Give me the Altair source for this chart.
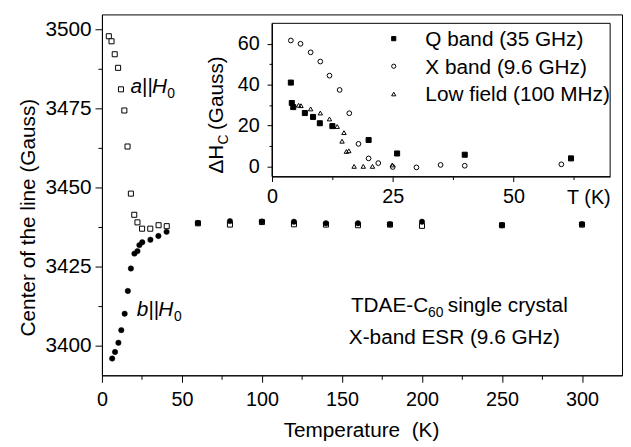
import altair as alt
import pandas as pd

FONT = "Liberation Sans"

# ---------------- main panel: centre of the line vs temperature ----------------
a_T = [4.3, 6.0, 8.0, 10.1, 11.9, 14.0, 16.0, 18.1, 20.2, 22.2, 25.1, 30.2, 35.4, 40.5,
       60, 80, 100, 120, 140, 160, 180, 200, 250, 300]
a_H = [3497.8, 3496.2, 3492.1, 3487.8, 3481.0, 3474.3, 3462.9, 3448.0, 3441.3, 3438.9,
       3436.9, 3436.9, 3438.0, 3437.7, 3438.6, 3438.2, 3439.0, 3438.3, 3438.2, 3438.0,
       3438.2, 3437.8, 3438.0, 3438.2]
b_T = [6.4, 8.2, 10.3, 12.1, 14.2, 16.2, 18.1, 20.3, 22.2, 23.4, 25.2, 30.3, 35.3, 40.4,
       60, 80, 100, 120, 140, 160, 180, 200, 250, 300]
b_H = [3395.8, 3397.9, 3400.8, 3404.8, 3410.0, 3417.2, 3424.3, 3429.0, 3429.8, 3431.7,
       3432.6, 3433.4, 3434.6, 3435.9, 3438.7, 3439.3, 3439.2, 3439.1, 3438.6, 3438.6,
       3438.3, 3439.1, 3438.0, 3438.3]

main_x_domain = [0, 325]
main_y_domain = [3390.5, 3504.7]
main_x_ticks = [0, 25, 50, 75, 100, 125, 150, 175, 200, 225, 250, 275, 300]
main_y_ticks = [3400, 3412.5, 3425, 3437.5, 3450, 3462.5, 3475, 3487.5, 3500]

# ---------------- inset: ΔH_C vs temperature ----------------
bands = ["Q band (35 GHz)", "X band (9.6 GHz)", "Low field (100 MHz)"]
q_T = [3.9, 4.1, 4.4, 6.8, 8.5, 9.9, 12.5, 20.0, 25.9, 39.9, 61.9]
q_dH = [41.0, 31.0, 29.0, 26.1, 24.2, 21.1, 19.7, 12.9, 6.3, 5.7, 3.9]
x_T = [3.9, 5.9, 8.0, 10.0, 11.9, 14.0, 16.0, 17.9, 20.0, 22.0, 25.0, 29.9, 34.9, 39.9, 59.9]
x_dH = [61.6, 60.0, 55.8, 51.3, 44.4, 37.4, 26.0, 11.0, 3.9, 1.6, -0.3, -0.5, 0.7, 0.3, 1.0]
l_T = [5.5, 6.0, 8.0, 10.0, 11.9, 13.5, 14.9, 14.5, 15.4, 15.9, 17.0, 18.9, 20.8, 24.9]
l_dH = [29.9, 29.7, 28.1, 26.1, 23.2, 19.5, 16.5, 12.3, 7.3, 7.6, 0.0, 0.0, 0.0, 0.7]

inset_x_domain = [0, 70]
inset_y_domain = [-5, 70]
inset_x_ticks = [0, 12.5, 25, 37.5, 50, 62.5]
inset_y_ticks = [0, 10, 20, 30, 40, 50, 60]

# legend entries of the inset (anchor in inset units: symbol column, row heights)
legend_T = [25.2, 25.2, 25.2]
legend_dH = [62.5, 49.0, 35.4]

shape_scale = alt.Scale(domain=bands, range=["square", "circle", "triangle-up"])
fill_scale = alt.Scale(domain=bands, range=["black", "transparent", "transparent"])


# ---------------- scales (fresh object per layer, identical specs) ----------------
def mx():
    return alt.Scale(domain=main_x_domain, nice=False, zero=False)


def my():
    return alt.Scale(domain=main_y_domain, nice=False, zero=False)


def ix():
    return alt.Scale(domain=inset_x_domain, range=[172, 514], nice=False, zero=False)


def iy():
    return alt.Scale(domain=inset_y_domain, range=[164, 9], nice=False, zero=False)


def minor_dash(step, dash):
    # minor ticks are drawn shorter by dashing the tick line
    return {"condition": {"test": f"datum.value % {step} != 0", "value": dash}, "value": [20, 0]}


main_x_axis = alt.Axis(
    orient="bottom", values=main_x_ticks, format="d",
    labelExpr="datum.value % 50 == 0 ? datum.label : ''",
    tickSize=7, tickDash=minor_dash(50, [4, 20]),
    labelPadding=8, labelFontSize=20, labelFlush=False, labelOverlap=False,
    title="Temperature\u00a0 (K)", titleFontSize=21, titleX=262, titleY=62,
    titleBaseline="alphabetic", titleAlign="center",
)
main_y_axis = alt.Axis(
    orient="left", values=main_y_ticks, format="d",
    labelExpr="datum.value % 25 == 0 ? datum.label : ''",
    tickSize=7, tickDash=minor_dash(25, [4, 20]),
    labelPadding=4, labelFontSize=21, labelFlush=False, labelOverlap=False,
    title="Center of the line (Gauss)", titleFontSize=21, titleAngle=270,
    titleX=-68, titleY=205, titleBaseline="alphabetic", titleAlign="center",
)
inset_x_axis = alt.Axis(
    orient="bottom", offset=-201, values=inset_x_ticks, format="d",
    labelExpr="datum.value % 25 == 0 ? datum.label : ''",
    tickSize=5, tickDash=minor_dash(25, [3, 20]),
    labelPadding=5, labelFontSize=20, labelFlush=False, labelOverlap=False,
    title="T (K)", titleFontSize=20, titleX=492, titleY=27,
    titleBaseline="alphabetic", titleAlign="center",
)
inset_y_axis = alt.Axis(
    orient="left", offset=-172, values=inset_y_ticks, format="d",
    labelExpr="datum.value % 20 == 0 ? datum.label : ''",
    tickSize=5, tickDash=minor_dash(20, [3, 20]),
    labelPadding=8, labelFontSize=20, labelFlush=False, labelOverlap=False,
    title=None,
)

# ---------------- main layers ----------------
df_a = pd.DataFrame({"T": a_T, "H": a_H})
df_b = pd.DataFrame({"T": b_T, "H": b_H})

squares = alt.Chart(df_a).mark_point(
    shape="square", size=26, filled=True, fill="white", stroke="black",
    strokeWidth=1, opacity=1
).encode(
    x=alt.X("T:Q", scale=mx(), axis=main_x_axis),
    y=alt.Y("H:Q", scale=my(), axis=main_y_axis),
)
circles = alt.Chart(df_b).mark_point(
    shape="circle", size=30, filled=True, fill="black", stroke="black",
    strokeWidth=0.5, opacity=1
).encode(
    x=alt.X("T:Q", scale=mx(), axis=None),
    y=alt.Y("H:Q", scale=my(), axis=None),
)


def main_text(T, H, text, dx=0, dy=0, size=21, style="normal"):
    d = pd.DataFrame({"T": [T], "H": [H], "t": [text]})
    return alt.Chart(d).mark_text(
        align="left", baseline="alphabetic", dx=dx, dy=dy, fontSize=size,
        font=FONT, fontStyle=style, color="black"
    ).encode(
        x=alt.X("T:Q", scale=mx(), axis=None),
        y=alt.Y("H:Q", scale=my(), axis=None),
        text="t:N",
    )


main_texts = [
    main_text(17.9, 3479.7, "a", style="italic"),
    main_text(17.9, 3479.7, "||", dx=11.6),
    main_text(17.9, 3479.7, "H", dx=21.6, style="italic"),
    main_text(17.9, 3479.7, "0", dx=37, dy=5, size=14),
    main_text(21.8, 3409.4, "b", style="italic"),
    main_text(21.8, 3409.4, "||", dx=11.7),
    main_text(21.8, 3409.4, "H", dx=21.7, style="italic"),
    main_text(21.8, 3409.4, "0", dx=37.5, dy=5, size=14),
    main_text(155.6, 3410.6, "TDAE-C"),
    main_text(155.6, 3410.6, "60", dx=78, dy=5, size=14),
    main_text(155.6, 3410.6, "single crystal", dx=98),
    main_text(154.3, 3400.3, "X-band ESR (9.6 GHz)"),
]

# ---------------- inset layers ----------------
df_in = pd.concat([
    pd.DataFrame({"T": q_T, "dH": q_dH, "band": bands[0]}),
    pd.DataFrame({"T": x_T, "dH": x_dH, "band": bands[1]}),
    pd.DataFrame({"T": l_T, "dH": l_dH, "band": bands[2]}),
], ignore_index=True)

frame_df = pd.DataFrame({
    "x0": [inset_x_domain[0]], "x1": [inset_x_domain[1]],
    "y0": [inset_y_domain[0]], "y1": [inset_y_domain[1]],
})
frame = alt.Chart(frame_df).mark_rect(
    filled=False, stroke="black", strokeWidth=1
).encode(
    x=alt.X("x0:Q", scale=ix(), axis=None), x2="x1:Q",
    y=alt.Y("y0:Q", scale=iy(), axis=None), y2="y1:Q",
)

inset_pts = alt.Chart(df_in).mark_point(
    filled=True, stroke="black", strokeWidth=1, opacity=1
).encode(
    x=alt.X("T:Q", scale=ix(), axis=inset_x_axis),
    y=alt.Y("dH:Q", scale=iy(), axis=inset_y_axis),
    shape=alt.Shape("band:N", scale=shape_scale, legend=None),
    fill=alt.Fill("band:N", scale=fill_scale, legend=None),
    size=alt.Size("band:N", scale=alt.Scale(domain=bands, range=[26, 20, 24]), legend=None),
)

# hand-built legend (symbols + labels) inside the inset
df_leg = pd.DataFrame({"T": legend_T, "dH": legend_dH, "band": bands})
leg_symbols = alt.Chart(df_leg).mark_point(
    filled=True, stroke="black", strokeWidth=1, opacity=1, size=18
).encode(
    x=alt.X("T:Q", scale=ix(), axis=None),
    y=alt.Y("dH:Q", scale=iy(), axis=None),
    shape=alt.Shape("band:N", scale=shape_scale, legend=None),
    fill=alt.Fill("band:N", scale=fill_scale, legend=None),
)
leg_labels = alt.Chart(df_leg).mark_text(
    align="left", baseline="alphabetic", dx=32, dy=7.5, fontSize=21,
    font=FONT, color="black"
).encode(
    x=alt.X("T:Q", scale=ix(), axis=None),
    y=alt.Y("dH:Q", scale=iy(), axis=None),
    text="band:N",
)


def inset_text(T, v, text, dx=0, dy=0, size=21):
    d = pd.DataFrame({"T": [T], "v": [v], "t": [text]})
    return alt.Chart(d).mark_text(
        align="left", baseline="alphabetic", angle=270, dx=dx, dy=dy,
        fontSize=size, font=FONT, color="black"
    ).encode(
        x=alt.X("T:Q", scale=ix(), axis=None),
        y=alt.Y("v:Q", scale=iy(), axis=None),
        text="t:N",
    )


inset_texts = [
    inset_text(-10.2, -3.55, "\u0394H"),
    inset_text(-10.2, -3.55, "C", dx=29.5, dy=5, size=14),
    inset_text(-10.2, -3.55, "(Gauss)", dx=44),
]

chart = alt.layer(
    squares, circles, *main_texts, frame, inset_pts, leg_symbols, leg_labels, *inset_texts
).resolve_scale(
    x="independent", y="independent"
).properties(
    width=526, height=365,
    padding={"left": 95, "top": 4, "right": 1, "bottom": 70},
    autosize=alt.AutoSizeParams(type="none"),
    background="white",
).configure_view(
    stroke="black", strokeWidth=1
).configure_axis(
    grid=False, domainColor="black", tickColor="black", labelColor="black",
    titleColor="black", labelFont=FONT, titleFont=FONT, titleFontWeight="normal",
    domainWidth=1, tickWidth=1,
)

chart.save("out.html", embed_options={"renderer": "svg", "actions": False})
